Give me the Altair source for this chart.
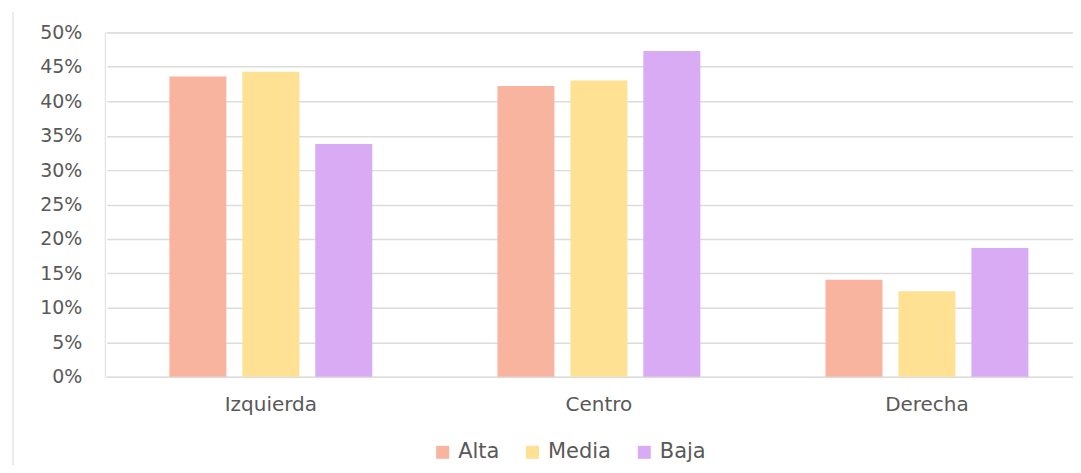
import altair as alt
import pandas as pd

categories = ["Izquierda", "Centro", "Derecha"]
series = ["Alta", "Media", "Baja"]
alta = [0.436, 0.422, 0.141]
media = [0.443, 0.430, 0.124]
baja = [0.338, 0.473, 0.187]
colors = ["#F9B4A0", "#FEE193", "#D9ABF4"]
y_ticks = [0, 0.05, 0.10, 0.15, 0.20, 0.25, 0.30, 0.35, 0.40, 0.45, 0.50]

rows = []
for s, vals in zip(series, [alta, media, baja]):
    for c, v in zip(categories, vals):
        rows.append({"Categoria": c, "Serie": s, "Valor": v})
df = pd.DataFrame(rows)

FONT = "DejaVu Sans"
TXT = "#595959"

bars = alt.Chart(df).mark_bar().encode(
    x=alt.X("Categoria:N", sort=categories,
            scale=alt.Scale(range=[2, 988], paddingInner=0, paddingOuter=0),
            axis=alt.Axis(title=None, labelAngle=0, domain=False, ticks=False,
                          labelPadding=18, labelFontSize=20, labelColor=TXT,
                          labelFont=FONT, grid=False)),
    xOffset=alt.XOffset("Serie:N", sort=series,
                        scale=alt.Scale(paddingInner=0.219, paddingOuter=0.858)),
    y=alt.Y("Valor:Q",
            scale=alt.Scale(domain=[0, 0.5], nice=False),
            axis=alt.Axis(title=None, format=".0%", values=y_ticks,
                          domain=False, ticks=False, labelPadding=23,
                          labelFontSize=19, labelColor=TXT, labelFont=FONT,
                          grid=True, gridColor="#DCDCDC", gridWidth=1.5)),
    color=alt.Color("Serie:N", sort=series,
                    scale=alt.Scale(domain=series, range=colors),
                    legend=alt.Legend(title=None, orient="none", direction="horizontal",
                                      legendX=328, legendY=410,
                                      symbolType="square", symbolSize=169,
                                      symbolStrokeWidth=0, symbolOpacity=1,
                                      labelFontSize=21, labelColor=TXT, labelFont=FONT,
                                      labelOffset=5, columnPadding=22)),
)

frame = alt.Chart(df).mark_rule(color="#EBEBEB", strokeWidth=1.5).encode(
    x=alt.value(-92), y=alt.value(-20), y2=alt.value(440)
)

chart = alt.layer(frame, bars).properties(
    width=970, height=345,
    autosize=alt.AutoSizeParams(type="none"),
    padding={"left": 97, "top": 24, "right": 0, "bottom": 88},
).configure_view(stroke=None).configure(background="white")

chart.save("out.html", embed_options={"renderer": "svg", "actions": False})
